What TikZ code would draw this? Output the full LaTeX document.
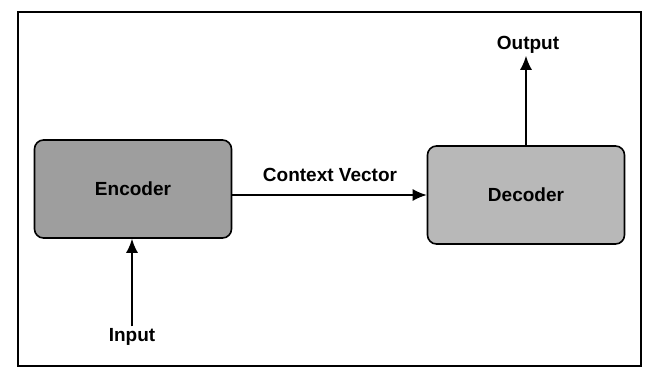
\documentclass[tikz,border=0pt]{standalone}
\usepackage{fontspec}
\setmainfont{Liberation Sans}
\usetikzlibrary{arrows.meta}
\usetikzlibrary{calc}

\begin{document}
\begin{tikzpicture}[x=1pt, y=-1pt,
	block_node/.style={draw, line width=1.6pt, rounded corners=9pt, minimum width=197pt, minimum height=98pt, font=\fontsize{19}{22}\selectfont\bfseries},
	text_node/.style={font=\fontsize{19}{22}\selectfont\bfseries, inner sep=2pt},
	flow/.style={-{Latex[length=14pt,width=12pt]}, line width=1.6pt}]
				
				\useasboundingbox (0,0) rectangle (646,381);
				\draw[line width=2pt] (18,12) rectangle (641,366);
				
				\node[block_node, fill=black!38] (1) at (133,189) {Encoder};
				\node[block_node, fill=black!28] (2) at (526,195) {Decoder};
				\node[text_node] (3) at (132,337) {Input};
				\node[text_node] (4) at (528,45) {Output};
				\node[text_node] (5) at (330,175) {Context Vector};
				
				\draw[flow] (3.north) -- (3.north |- 1.south);
				\draw[flow] (1.east |- 2.west) -- (2.west);
				\draw[flow] (2.north) -- (2.north |- 4.south);
			\end{tikzpicture}
\end{document}
